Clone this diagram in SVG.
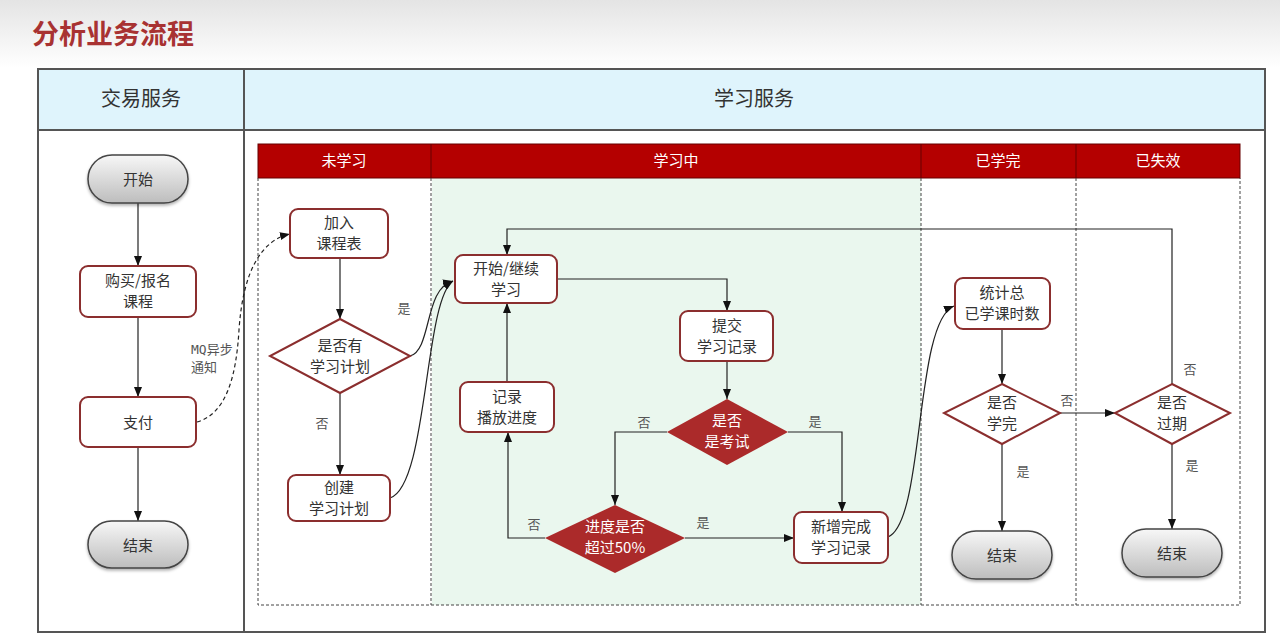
<svg xmlns="http://www.w3.org/2000/svg" width="1280" height="640" viewBox="0 0 1280 640">
<defs>
<linearGradient id="topbg" x1="0" y1="0" x2="0" y2="1">
<stop offset="0" stop-color="#e4e4e4"/><stop offset="1" stop-color="#ffffff"/>
</linearGradient>
<linearGradient id="pill" x1="0" y1="0" x2="0" y2="1">
<stop offset="0" stop-color="#f7f7f7"/><stop offset="1" stop-color="#bdbdbd"/>
</linearGradient>
<filter id="sh" x="-20%" y="-20%" width="140%" height="160%">
<feDropShadow dx="0" dy="2" stdDeviation="1.5" flood-color="#000" flood-opacity="0.3"/>
</filter>
<marker id="arr" markerWidth="10" markerHeight="8" refX="10" refY="4" orient="auto" markerUnits="userSpaceOnUse">
<path d="M0,0 L10,4 L0,8 Z" fill="#111"/>
</marker>
</defs>
<style>
text{font-family:"Noto Sans CJK SC","Noto Sans",sans-serif;}
.box{fill:#fff;stroke:#8b2e2e;stroke-width:2;}
.dia{fill:#fff;stroke:#8b2e2e;stroke-width:2;}
.fdia{fill:#ab2a2a;stroke:none;}
.pill{fill:url(#pill);stroke:#444;stroke-width:1.5;filter:url(#sh);}
.t{font-size:15px;fill:#333;text-anchor:middle;}
.tw{font-size:15px;fill:#fff;text-anchor:middle;}
.lbl{font-size:13px;fill:#555;text-anchor:middle;}
.mq{font-size:13px;fill:#555;font-family:"DejaVu Sans Mono","Noto Sans CJK SC",monospace;}
.con{fill:none;stroke:#222;stroke-width:1.2;marker-end:url(#arr);}
.lane{fill:none;stroke:#444;stroke-width:1;stroke-dasharray:3,2;}
.lh{font-size:15px;fill:#fff;text-anchor:middle;}
.hd{font-size:20px;fill:#333;text-anchor:middle;}
</style>
<rect x="0" y="0" width="1280" height="640" fill="#fff"/>
<rect x="0" y="0" width="1280" height="68" fill="url(#topbg)"/>
<text x="32" y="44" font-size="27" font-weight="bold" fill="#a83232">分析业务流程</text>

<g id="table">
<rect x="38" y="69" width="1227" height="61" fill="#dff4fc"/>
<rect x="38" y="69" width="1227" height="563" fill="none" stroke="#555" stroke-width="2"/>
<line x1="38" y1="130" x2="1265" y2="130" stroke="#555" stroke-width="2"/>
<line x1="244" y1="69" x2="244" y2="632" stroke="#555" stroke-width="2"/>
<text class="hd" x="141" y="106">交易服务</text>
<text class="hd" x="754" y="106">学习服务</text>
</g>

<g id="lanes">
<rect x="432" y="178" width="489" height="427" fill="#eaf7ee"/>
<rect x="258" y="144" width="982" height="34" fill="#b40000" stroke="#600" stroke-width="1"/>
<line x1="431" y1="144" x2="431" y2="178" stroke="#600"/>
<line x1="921" y1="144" x2="921" y2="178" stroke="#600"/>
<line x1="1076" y1="144" x2="1076" y2="178" stroke="#600"/>
<text class="lh" x="344" y="166">未学习</text>
<text class="lh" x="676" y="166">学习中</text>
<text class="lh" x="998" y="166">已学完</text>
<text class="lh" x="1158" y="166">已失效</text>
<path class="lane" d="M258,178 V605 H1240 V178"/>
<line class="lane" x1="431" y1="178" x2="431" y2="605"/>
<line class="lane" x1="921" y1="178" x2="921" y2="605"/>
<line class="lane" x1="1076" y1="178" x2="1076" y2="605"/>
</g>

<g id="connectors">
<line class="con" x1="138" y1="203" x2="138" y2="266"/>
<line class="con" x1="138" y1="317" x2="138" y2="397"/>
<line class="con" x1="138" y1="447" x2="138" y2="521"/>
<path class="con" stroke-dasharray="4,3" d="M197,422 C225,414 236,380 239,330 C243,270 262,240 290,234"/>
<line class="con" x1="340" y1="258" x2="340" y2="319"/>
<line class="con" x1="340" y1="393" x2="340" y2="475"/>
<path class="con" d="M410,356 C432,350 424,288 453,281"/>
<path class="con" d="M390,498 C428,486 424,300 453,281"/>
<path class="con" d="M557,279 H727 V311"/>
<line class="con" x1="727" y1="361" x2="727" y2="399"/>
<path class="con" d="M667,432 H615 V505"/>
<path class="con" d="M788,432 H842 V512"/>
<path class="con" d="M545,538 H508 V432"/>
<line class="con" x1="685" y1="538" x2="794" y2="538"/>
<line class="con" x1="507" y1="382" x2="507" y2="303"/>
<path class="con" d="M1172,384 V229 H507 V255"/>
<path class="con" d="M888,537 C925,522 914,322 954,306"/>
<line class="con" x1="1002" y1="329" x2="1002" y2="384"/>
<line class="con" x1="1002" y1="444" x2="1002" y2="531"/>
<line class="con" x1="1060" y1="413" x2="1115" y2="413"/>
<line class="con" x1="1172" y1="444" x2="1172" y2="529"/>
<text class="mq" x="191" y="354">MQ异步</text>
<text class="mq" x="191" y="372">通知</text>
<text class="lbl" x="404" y="313">是</text>
<text class="lbl" x="322" y="428">否</text>
<text class="lbl" x="644" y="427">否</text>
<text class="lbl" x="815" y="426">是</text>
<text class="lbl" x="534" y="529">否</text>
<text class="lbl" x="703" y="527">是</text>
<text class="lbl" x="1023" y="476">是</text>
<text class="lbl" x="1067" y="405">否</text>
<text class="lbl" x="1190" y="374">否</text>
<text class="lbl" x="1192" y="470">是</text>
</g>

<g id="n-start"><rect class="pill" x="88" y="155" width="100" height="48" rx="24"/><text class="t" x="138" y="185">开始</text></g>
<g id="n-buy"><rect class="box" x="80" y="266" width="116" height="51" rx="8"/><text class="t" x="138" y="286">购买/报名</text><text class="t" x="138" y="307">课程</text></g>
<g id="n-pay"><rect class="box" x="80" y="397" width="116" height="50" rx="8"/><text class="t" x="138" y="428">支付</text></g>
<g id="n-end1"><rect class="pill" x="88" y="521" width="100" height="47" rx="23.5"/><text class="t" x="138" y="551">结束</text></g>

<g id="n-add"><rect class="box" x="290" y="209" width="98" height="49" rx="8"/><text class="t" x="339" y="228">加入</text><text class="t" x="339" y="249">课程表</text></g>
<g id="n-hasplan"><path class="dia" d="M340,319 L410,356 L340,393 L270,356 Z"/><text class="t" x="340" y="351">是否有</text><text class="t" x="340" y="372">学习计划</text></g>
<g id="n-create"><rect class="box" x="288" y="475" width="102" height="46" rx="8"/><text class="t" x="339" y="493">创建</text><text class="t" x="339" y="514">学习计划</text></g>

<g id="n-study"><rect class="box" x="455" y="255" width="102" height="48" rx="8"/><text class="t" x="506" y="274">开始/继续</text><text class="t" x="506" y="295">学习</text></g>
<g id="n-record"><rect class="box" x="460" y="382" width="94" height="50" rx="8"/><text class="t" x="507" y="402">记录</text><text class="t" x="507" y="423">播放进度</text></g>
<g id="n-submit"><rect class="box" x="680" y="311" width="93" height="50" rx="8"/><text class="t" x="727" y="331">提交</text><text class="t" x="727" y="352">学习记录</text></g>
<g id="n-exam"><path class="fdia" d="M727,399 L788,432 L727,465 L667,432 Z"/><text class="tw" x="727" y="426">是否</text><text class="tw" x="727" y="447">是考试</text></g>
<g id="n-over50"><path class="fdia" d="M615,505 L685,538 L615,573 L545,538 Z"/><text class="tw" x="615" y="532">进度是否</text><text class="tw" x="615" y="553">超过50%</text></g>
<g id="n-newdone"><rect class="box" x="794" y="512" width="94" height="51" rx="8"/><text class="t" x="841" y="532">新增完成</text><text class="t" x="841" y="553">学习记录</text></g>

<g id="n-count"><rect class="box" x="955" y="278" width="95" height="51" rx="8"/><text class="t" x="1002" y="298">统计总</text><text class="t" x="1002" y="319">已学课时数</text></g>
<g id="n-finished"><path class="dia" d="M1002,384 L1060,413 L1002,444 L944,413 Z"/><text class="t" x="1002" y="408">是否</text><text class="t" x="1002" y="429">学完</text></g>
<g id="n-end2"><rect class="pill" x="952" y="531" width="100" height="48" rx="24"/><text class="t" x="1002" y="561">结束</text></g>

<g id="n-expired"><path class="dia" d="M1172,384 L1230,413 L1172,444 L1115,413 Z"/><text class="t" x="1172" y="408">是否</text><text class="t" x="1172" y="429">过期</text></g>
<g id="n-end3"><rect class="pill" x="1122" y="529" width="100" height="48" rx="24"/><text class="t" x="1172" y="559">结束</text></g>
</svg>
